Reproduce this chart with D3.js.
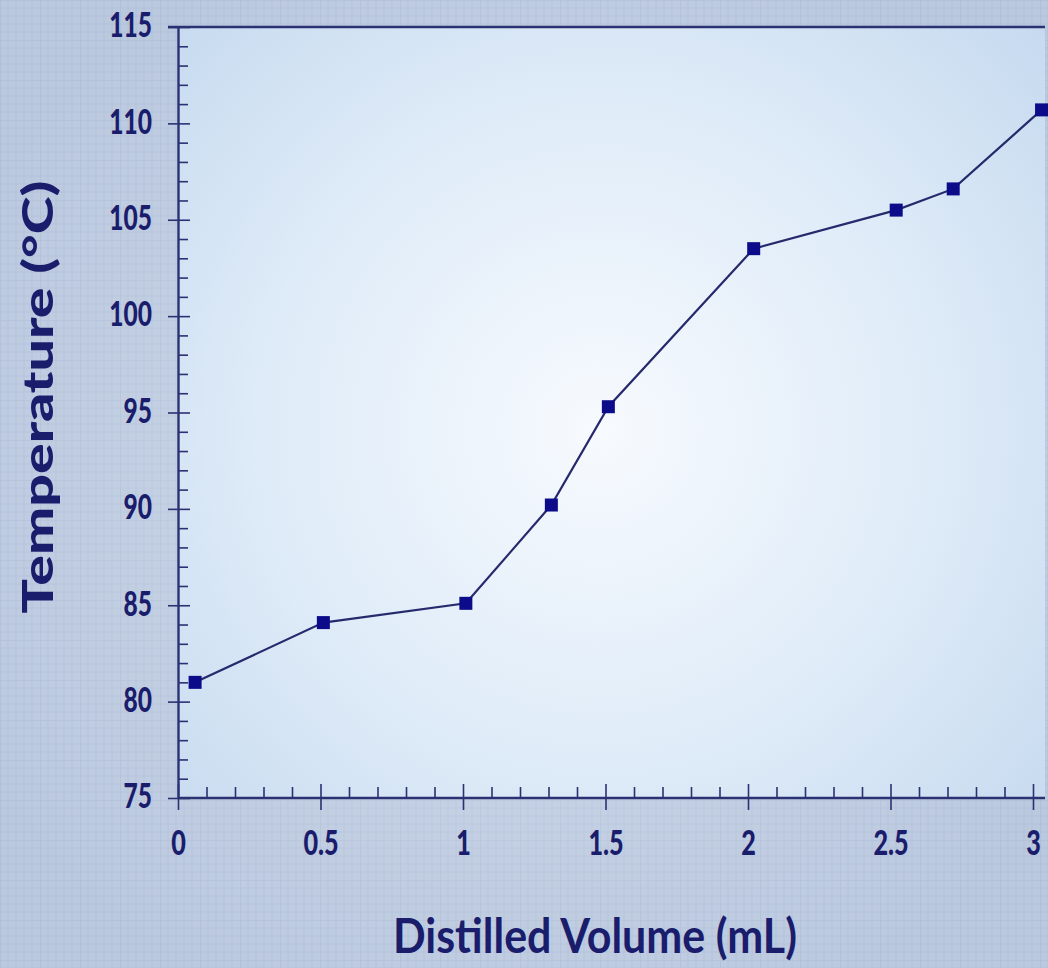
<!DOCTYPE html>
<html>
<head>
<meta charset="utf-8">
<script src="https://cdn.jsdelivr.net/npm/d3@7"></script>
<style>
  html, body { margin: 0; padding: 0; background: #bccadf; }
  svg { display: block; }
</style>
</head>
<body>
<svg id="chart" width="1048" height="968"></svg>
<script>
// readings: distilled volume (mL) vs temperature (°C)
let volumes = [0.06, 0.51, 1.01, 1.31, 1.51, 2.02, 2.52, 2.72, 3.03];
let temperatures = [81.0, 84.1, 85.1, 90.2, 95.3, 103.5, 105.5, 106.6, 110.7];
let xTicks = [0, 0.5, 1, 1.5, 2, 2.5, 3];
let yTicks = [75, 80, 85, 90, 95, 100, 105, 110, 115];
let xTitle = "Distilled Volume (mL)";
let yTitle = "Temperature (°C)";

let width = 1048, height = 968;
let margin = { left: 178, top: 27, right: 3, bottom: 170 };
let navy = "#1a1d6c";
let font = "Lato, 'Open Sans', sans-serif";

let svg = d3.select('#chart');
let defs = svg.append('defs');

// graph paper look for the page background
let paper = defs.append('pattern')
    .attr('id', 'paper')
    .attr('width', 40).attr('height', 40)
    .attr('patternUnits', 'userSpaceOnUse');
paper.append('rect').attr('width', 40).attr('height', 40).attr('fill', '#bbc9df');
d3.range(0, 40, 8).forEach(function (p) {
    paper.append('line').attr('x1', p).attr('x2', p).attr('y1', 0).attr('y2', 40)
        .attr('stroke', '#abbbd6').attr('stroke-width', p === 0 ? 1.2 : 0.6);
    paper.append('line').attr('y1', p).attr('y2', p).attr('x1', 0).attr('x2', 40)
        .attr('stroke', '#abbbd6').attr('stroke-width', p === 0 ? 1.2 : 0.6);
});

let glow = defs.append('radialGradient').attr('id', 'glow')
    .attr('cx', '0.5').attr('cy', '0.5').attr('r', '0.6');
glow.append('stop').attr('offset', '0').attr('stop-color', '#ffffff').attr('stop-opacity', 0.3);
glow.append('stop').attr('offset', '1').attr('stop-color', '#ffffff').attr('stop-opacity', 0);

let panelFill = defs.append('radialGradient').attr('id', 'panelFill')
    .attr('gradientUnits', 'userSpaceOnUse')
    .attr('cx', 600).attr('cy', 430).attr('r', 620);
panelFill.append('stop').attr('offset', '0').attr('stop-color', '#f7fafe');
panelFill.append('stop').attr('offset', '0.55').attr('stop-color', '#deebf8');
panelFill.append('stop').attr('offset', '1').attr('stop-color', '#c4d8ee');

svg.append('rect').attr('width', width).attr('height', height).attr('fill', 'url(#paper)');
svg.append('rect').attr('width', width).attr('height', height).attr('fill', 'url(#glow)');

let x = d3.scaleLinear().domain([0, 3]).range([margin.left, 1033]);
let y = d3.scaleLinear().domain([75, 115]).range([height - margin.bottom, margin.top]);

// plot panel
svg.append('rect')
    .attr('x', margin.left).attr('y', margin.top)
    .attr('width', width - margin.right - margin.left)
    .attr('height', y(75) - margin.top)
    .attr('fill', 'url(#panelFill)');
svg.append('line')
    .attr('x1', 168).attr('x2', width - margin.right)
    .attr('y1', margin.top).attr('y2', margin.top)
    .attr('stroke', '#2b3172').attr('stroke-width', 2.4);

let xMinor = d3.range(1, 31).filter(d => d % 5 !== 0).map(d => d / 10);
let yMinor = d3.range(76, 115).filter(d => d % 5 !== 0);

function styleAxis(g) {
    g.select('.domain').attr('stroke', '#2b3172').attr('stroke-width', 2.4);
    g.selectAll('.tick line').attr('stroke', '#2b3172').attr('stroke-width', 1.6);
}

// squeeze the bold labels to look like the condensed face of the original
function condense(sel, k) {
    sel.each(function () {
        let w = this.getComputedTextLength();
        d3.select(this).attr('textLength', w * k).attr('lengthAdjust', 'spacingAndGlyphs');
    });
}

// x axis: minor ticks inside, major ticks crossing the line
svg.append('g').attr('transform', 'translate(0,' + y(75) + ')')
    .call(d3.axisBottom(x).tickValues(xMinor).tickSize(-11).tickFormat(''))
    .call(styleAxis)
    .call(g => g.select('.domain').remove());
svg.append('g').attr('transform', 'translate(0,' + y(75) + ')')
    .call(d3.axisBottom(x).tickValues(xTicks).tickSize(-14).tickFormat(''))
    .call(styleAxis)
    .call(g => g.select('.domain').remove());
let xAxis = svg.append('g').attr('transform', 'translate(0,' + y(75) + ')')
    .call(d3.axisBottom(x).tickValues(xTicks).tickSizeInner(12).tickSizeOuter(0)
        .tickPadding(20).tickFormat(d3.format('')))
    .call(styleAxis);
xAxis.select('.domain').attr('d', 'M' + margin.left + ',0H' + (width - margin.right));
xAxis.selectAll('text')
    .attr('fill', navy).attr('font-family', font)
    .attr('font-weight', 900).attr('font-size', 35)
    .call(condense, 0.72);

// y axis
svg.append('g').attr('transform', 'translate(' + margin.left + ',0)')
    .call(d3.axisLeft(y).tickValues(yMinor).tickSize(-10).tickFormat(''))
    .call(styleAxis)
    .call(g => g.select('.domain').remove());
svg.append('g').attr('transform', 'translate(' + margin.left + ',0)')
    .call(d3.axisLeft(y).tickValues(yTicks).tickSize(-12).tickFormat(''))
    .call(styleAxis)
    .call(g => g.select('.domain').remove());
let yAxis = svg.append('g').attr('transform', 'translate(' + margin.left + ',0)')
    .call(d3.axisLeft(y).tickValues(yTicks).tickSizeInner(10).tickSizeOuter(0)
        .tickPadding(16))
    .call(styleAxis);
yAxis.selectAll('text')
    .attr('fill', navy).attr('font-family', font)
    .attr('font-weight', 900).attr('font-size', 35)
    .attr('dy', '0.28em')
    .call(condense, 0.7);

// data line and square markers
let points = volumes.map((v, i) => ({ v: v, t: temperatures[i] }));
let line = d3.line().x(d => x(d.v)).y(d => y(d.t));
svg.append('path')
    .datum(points)
    .attr('d', line)
    .attr('fill', 'none')
    .attr('stroke', '#262a6c')
    .attr('stroke-width', 2.2);
let size = 13;
svg.selectAll('.marker')
    .data(points)
    .enter().append('rect')
    .attr('class', 'marker')
    .attr('x', d => x(d.v) - size / 2)
    .attr('y', d => y(d.t) - size / 2)
    .attr('width', size).attr('height', size)
    .attr('fill', '#0c0c8a');

// titles
svg.append('text')
    .attr('x', 595).attr('y', 953)
    .attr('text-anchor', 'middle')
    .attr('fill', navy).attr('font-family', font)
    .attr('font-weight', 700).attr('font-size', 47)
    .attr('textLength', 404).attr('lengthAdjust', 'spacingAndGlyphs')
    .text(xTitle);
svg.append('text')
    .attr('transform', 'translate(53,397) rotate(-90)')
    .attr('text-anchor', 'middle')
    .attr('fill', navy).attr('font-family', font)
    .attr('font-weight', 900).attr('font-size', 42)
    .attr('textLength', 433).attr('lengthAdjust', 'spacingAndGlyphs')
    .text(yTitle);
</script>
</body>
</html>
